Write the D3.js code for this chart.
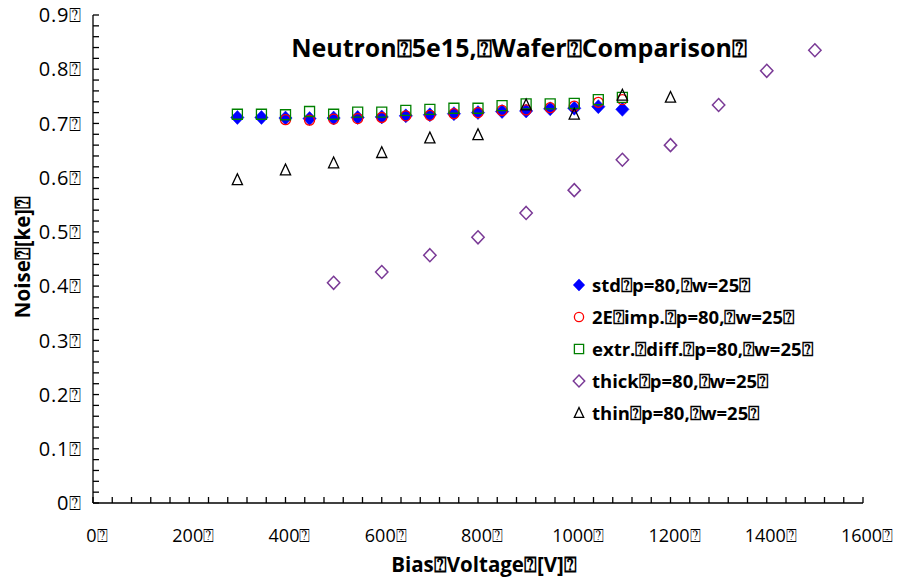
<!DOCTYPE html>
<html><head><meta charset="utf-8">
<script src="https://cdn.jsdelivr.net/npm/d3@7"></script>
<style>body{margin:0;background:#fff}svg{display:block}text{font-family:"Open Sans",sans-serif}</style>
</head><body>
<script>
const B = "\u2370";
const title = "Neutron" + B + "5e15," + B + "Wafer" + B + "Comparison" + B;
const xTitle = "Bias" + B + "Voltage" + B + "[V]" + B;
const yTitle = "Noise" + B + "[ke]" + B;
const xTicks = [0, 200, 400, 600, 800, 1000, 1200, 1400, 1600];
const yTicks = [0, 0.1, 0.2, 0.3, 0.4, 0.5, 0.6, 0.7, 0.8, 0.9];

const stdX = [300,350,400,450,500,550,600,650,700,750,800,850,900,950,1000,1050,1100];
const stdY = [0.711,0.711,0.710,0.709,0.710,0.711,0.712,0.714,0.716,0.718,0.720,0.722,0.723,0.727,0.728,0.731,0.726];
const impX = [400,450,500,550,600,650,700,750,800,850,900,950,1000,1050,1100];
const impY = [0.707,0.706,0.708,0.709,0.711,0.714,0.715,0.718,0.720,0.724,0.725,0.729,0.732,0.739,0.744];
const extX = [300,350,400,450,500,550,600,650,700,750,800,850,900,950,1000,1050,1100];
const extY = [0.717,0.717,0.716,0.722,0.717,0.721,0.721,0.724,0.726,0.728,0.728,0.733,0.736,0.736,0.737,0.744,0.748];
const thickX = [500,600,700,800,900,1000,1100,1200,1300,1400,1500];
const thickY = [0.406,0.426,0.457,0.490,0.535,0.577,0.633,0.660,0.734,0.797,0.835];
const thinX = [300,400,500,600,700,800,900,1000,1100,1200];
const thinY = [0.596,0.614,0.627,0.646,0.673,0.679,0.734,0.717,0.752,0.748];

const seriesNames = ["std"+B+"p=80,"+B+"w=25"+B, "2E"+B+"imp."+B+"p=80,"+B+"w=25"+B,
  "extr."+B+"diff."+B+"p=80,"+B+"w=25"+B, "thick"+B+"p=80,"+B+"w=25"+B, "thin"+B+"p=80,"+B+"w=25"+B];

const W = 900, H = 578;
const svg = d3.select("body").append("svg").attr("width", W).attr("height", H);
const x = d3.scaleLinear().domain([0, 1600]).range([93, 863]);
const y = d3.scaleLinear().domain([0, 0.9]).range([503, 15]);

const sqDiamond = { draw(c, s) { const r = Math.sqrt(s) / 2; c.moveTo(0,-r); c.lineTo(r*0.95,0); c.lineTo(0,r); c.lineTo(-r*0.95,0); c.closePath(); } };
const tri = { draw(c, s) { const r = Math.sqrt(s) / 2; c.moveTo(0,-r); c.lineTo(r*0.85,r*0.8); c.lineTo(-r*0.85,r*0.8); c.closePath(); } };
const circ = { draw(c, s) { const r = Math.sqrt(s) / 2; c.moveTo(r,0); c.arc(0,0,r,0,2*Math.PI); } };
const sq = { draw(c, s) { const r = Math.sqrt(s) / 2; c.rect(-r,-r,2*r,2*r); } };

const series = [
  {xs: stdX, ys: stdY, type: sqDiamond, size: 14*14, fill: "#0000FF", stroke: "#0000FF", sw: 0.5},
  {xs: impX, ys: impY, type: circ, size: 10*10, fill: "none", stroke: "#FF0000", sw: 1.3},
  {xs: extX, ys: extY, type: sq, size: 10*10, fill: "none", stroke: "#008000", sw: 1.3},
  {xs: thickX, ys: thickY, type: sqDiamond, size: 13*13, fill: "none", stroke: "#7A3A96", sw: 1.5},
  {xs: thinX, ys: thinY, type: tri, size: 12*12, fill: "none", stroke: "#000000", sw: 1.3}
];

const axG = svg.append("g").attr("stroke", "#000").attr("stroke-width", 1.3);
axG.append("line").attr("x1", x(0)).attr("x2", x(0)).attr("y1", y(0.9)).attr("y2", y(0));
axG.append("line").attr("x1", x(0)).attr("x2", x(1600)).attr("y1", y(0)).attr("y2", y(0));
d3.range(0, 46).map(i => i * 0.02).forEach(v => {
  axG.append("line").attr("x1", x(0)).attr("x2", x(0) + 6).attr("y1", y(v)).attr("y2", y(v));
});
d3.range(0, 41).map(i => i * 40).forEach(v => {
  axG.append("line").attr("x1", x(v)).attr("x2", x(v)).attr("y1", y(0)).attr("y2", y(0) - 6);
});

svg.append("g").selectAll("text").data(yTicks).join("text")
  .attr("x", 82).attr("y", d => y(d)).attr("dy", "0.36em").attr("text-anchor", "end")
  .attr("font-size", 20).attr("letter-spacing", 0.8).text(d => d3.format("~g")(d) + B);
svg.append("g").selectAll("text").data(xTicks).join("text")
  .attr("x", d => x(d) + 4).attr("y", 542).attr("text-anchor", "middle")
  .attr("font-size", 18).text(d => d + B);

svg.append("text").attr("x", 519).attr("y", 57).attr("text-anchor", "middle")
  .attr("font-size", 25).attr("font-weight", "bold").text(title);
svg.append("text").attr("x", 484).attr("y", 572).attr("text-anchor", "middle")
  .attr("font-size", 20.5).attr("font-weight", "bold").text(xTitle);
svg.append("text").attr("transform", "translate(30,257) rotate(-90)").attr("text-anchor", "middle")
  .attr("font-size", 20.5).attr("font-weight", "bold").text(yTitle);

series.forEach(s => {
  const sym = d3.symbol().type(s.type).size(s.size);
  svg.append("g").selectAll("path").data(s.xs.map((v, i) => [v, s.ys[i]])).join("path")
    .attr("transform", d => `translate(${x(d[0])},${y(d[1])})`)
    .attr("d", sym).attr("fill", s.fill).attr("stroke", s.stroke).attr("stroke-width", s.sw);
});

const lg = svg.append("g");
series.forEach((s, i) => {
  const yy = 285 + i * 32;
  const sc = i === 0 ? 0.75 : 0.85;
  lg.append("path").attr("transform", `translate(579,${yy})`)
    .attr("d", d3.symbol().type(s.type).size(s.size * sc)).attr("fill", s.fill)
    .attr("stroke", s.stroke).attr("stroke-width", s.sw);
  lg.append("text").attr("x", 592).attr("y", yy).attr("dy", "0.36em")
    .attr("font-size", 18.5).attr("font-weight", "bold").text(seriesNames[i]);
});
</script>
</body></html>
